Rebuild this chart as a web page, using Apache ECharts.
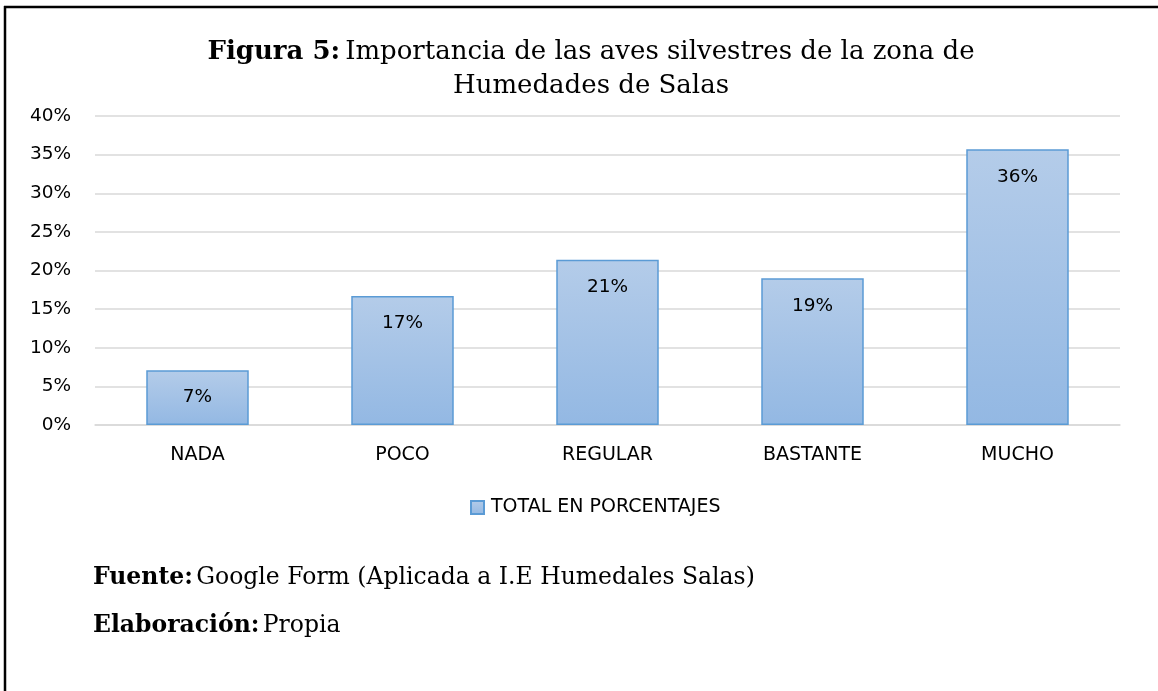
<!DOCTYPE html>
<html>
<head>
<meta charset="utf-8">
<script src="https://cdn.jsdelivr.net/npm/echarts@6/dist/echarts.min.js"></script>
<style>
html,body{margin:0;padding:0;background:#fff;}
#chart{width:1158px;height:691px;}
</style>
</head>
<body>
<div id="chart"></div>
<script>
const categories = ['NADA', 'POCO', 'REGULAR', 'BASTANTE', 'MUCHO'];
const seriesName = 'TOTAL EN PORCENTAJES';
const values = [7.1, 16.7, 21.4, 19.0, 35.7];
const yTicks = { min: 0, max: 40, interval: 5 };
const titleBold = 'Figura 5:';
const titleLine1 = 'Importancia de las aves silvestres de la zona de';
const titleLine2 = 'Humedades de Salas';
const sourceLabel = 'Fuente:';
const sourceText = 'Google Form (Aplicada a I.E Humedales Salas)';
const authorLabel = 'Elaboración:';
const authorText = 'Propia';

const chart = echarts.init(document.getElementById('chart'), null, { renderer: 'canvas' });
const serif = '"DejaVu Serif", "Liberation Serif", serif';
const sans = '"DejaVu Sans", sans-serif';

chart.setOption({
  backgroundColor: '#ffffff',
  animation: false,
  title: {
    text: '{b|' + titleBold + '} {n|' + titleLine1 + '}\n{n|' + titleLine2 + '}',
    left: 586,
    top: 30,
    textAlign: 'center',
    textStyle: {
      fontWeight: 'normal',
      rich: {
        b: { fontFamily: serif, fontSize: 26, fontWeight: 'bold', color: '#000', lineHeight: 34 },
        n: { fontFamily: serif, fontSize: 26, fontWeight: 'normal', color: '#000', lineHeight: 34 }
      }
    }
  },
  legend: {
    data: [seriesName],
    left: 465,
    top: 493,
    itemWidth: 13,
    itemHeight: 13,
    itemGap: 8,
    icon: 'rect',
    textStyle: { fontFamily: sans, fontSize: 19, color: '#000', padding: [0, 0, 0, 2] }
  },
  grid: { left: 95, right: 38, top: 116, bottom: 266 },
  xAxis: {
    type: 'category',
    data: categories,
    axisLine: { lineStyle: { color: '#d9d9d9', width: 1.5 } },
    axisTick: { show: false },
    axisLabel: { fontFamily: sans, fontSize: 19, color: '#000', margin: 21 }
  },
  yAxis: {
    type: 'value',
    min: yTicks.min,
    max: yTicks.max,
    interval: yTicks.interval,
    axisLine: { show: false },
    axisTick: { show: false },
    axisLabel: { fontFamily: sans, fontSize: 18.5, color: '#000', margin: 24, formatter: '{value}%' },
    splitLine: { lineStyle: { color: '#d9d9d9', width: 1.5 } }
  },
  series: [{
    name: seriesName,
    type: 'bar',
    data: values,
    barWidth: '50%',
    itemStyle: {
      color: new echarts.graphic.LinearGradient(0, 0, 0, 1, [
        { offset: 0, color: '#b4cce9' },
        { offset: 1, color: '#93b8e3' }
      ]),
      borderColor: '#5b9bd5',
      borderWidth: 1.5
    },
    label: {
      show: true,
      position: 'insideTop',
      distance: 18,
      fontFamily: sans,
      fontSize: 18.5,
      color: '#000',
      formatter: p => Math.round(p.value) + '%'
    }
  }],
  graphic: [
    { type: 'line', shape: { x1: 4, y1: 7, x2: 1158, y2: 7 }, style: { stroke: '#000', lineWidth: 2.5 } },
    { type: 'line', shape: { x1: 5, y1: 6, x2: 5, y2: 691 }, style: { stroke: '#000', lineWidth: 2.5 } },
    {
      type: 'text', left: 93, top: 566,
      style: {
        text: '{b|' + sourceLabel + '} {n|' + sourceText + '}',
        rich: {
          b: { fontFamily: serif, fontSize: 23.5, fontWeight: 'bold', fill: '#000' },
          n: { fontFamily: serif, fontSize: 23.5, fill: '#000' }
        }
      }
    },
    {
      type: 'text', left: 93, top: 614,
      style: {
        text: '{b|' + authorLabel + '} {n|' + authorText + '}',
        rich: {
          b: { fontFamily: serif, fontSize: 23.5, fontWeight: 'bold', fill: '#000' },
          n: { fontFamily: serif, fontSize: 23.5, fill: '#000' }
        }
      }
    }
  ]
});
</script>
</body>
</html>
